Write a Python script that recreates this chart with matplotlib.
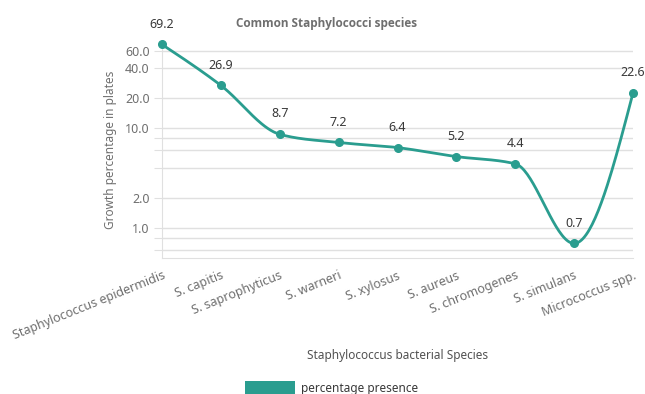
import numpy as np
import matplotlib
matplotlib.use("Agg")
import matplotlib.pyplot as plt
from matplotlib.patches import Patch

plt.rcParams['font.family'] = ['Noto Sans', 'DejaVu Sans']

species = ["Staphylococcus epidermidis", "S. capitis", "S. saprophyticus",
           "S. warneri", "S. xylosus", "S. aureus", "S. chromogenes",
           "S. simulans", "Micrococcus spp."]
presence = [69.2, 26.9, 8.7, 7.2, 6.4, 5.2, 4.4, 0.7, 22.6]
grid_vals = [0.6, 0.8, 1, 2, 4, 6, 8, 10, 20, 40, 60]
labelled = [1, 2, 10, 20, 40, 60]

TEAL = '#2a9d8f'
GRID = '#e0e0e0'


def monotone_x(xs, ys, n=40):
    # same smoothing as d3.curveMonotoneX
    xs = np.asarray(xs, float)
    ys = np.asarray(ys, float)
    h = np.diff(xs)
    s = np.diff(ys) / h
    t = np.zeros(len(xs))
    for i in range(1, len(xs) - 1):
        p = (s[i - 1] * h[i] + s[i] * h[i - 1]) / (h[i - 1] + h[i])
        t[i] = (np.sign(s[i - 1]) + np.sign(s[i])) * min(abs(s[i - 1]), abs(s[i]), 0.5 * abs(p))
    t[0] = (3 * s[0] - t[1]) / 2
    t[-1] = (3 * s[-1] - t[-2]) / 2
    px, py = [], []
    for i in range(len(xs) - 1):
        dx = h[i] / 3
        P = [(xs[i], ys[i]), (xs[i] + dx, ys[i] + dx * t[i]),
             (xs[i + 1] - dx, ys[i + 1] - dx * t[i + 1]), (xs[i + 1], ys[i + 1])]
        u = np.linspace(0, 1, n)
        b = [(1 - u) ** 3, 3 * (1 - u) ** 2 * u, 3 * (1 - u) * u ** 2, u ** 3]
        px.extend(sum(b[k] * P[k][0] for k in range(4)))
        py.extend(sum(b[k] * P[k][1] for k in range(4)))
    return np.array(px), np.array(py)


fig = plt.figure(figsize=(6.45, 3.94), dpi=100)
ax = fig.add_axes([162 / 645, 1 - 258 / 394, 471 / 645, 217 / 394])

x = np.arange(len(species))
cx, cy = monotone_x(x, np.log10(presence))
ax.plot(cx, 10 ** cy, color=TEAL, lw=2.0, zorder=3, clip_on=False)
ax.plot(x, presence, 'o', color=TEAL, ms=5.5, zorder=4, clip_on=False)

for xi, v in zip(x, presence):
    ax.annotate(f"{v:.1f}", (xi, v), xytext=(0, 10), textcoords='offset points',
                ha='center', va='bottom', fontsize=9, color='#393939')

ax.set_yscale('log')
ax.set_xlim(0, len(species) - 1)
ax.set_ylim(0.5, 75)
ax.set_yticks(grid_vals)
ax.set_yticks([], minor=True)
ax.set_yticklabels([f"{v:.1f}" if v in labelled else "" for v in grid_vals])
ax.grid(axis='y', color=GRID, lw=1)
ax.set_axisbelow(True)
ax.tick_params(axis='y', length=6, color=GRID, labelsize=9, labelcolor='#6f6f6f', pad=3)
ax.tick_params(axis='x', length=0, labelsize=9, labelcolor='#6f6f6f', pad=8)

ax.set_xticks(x)
ax.set_xticklabels(species, rotation=22, ha='right', va='top', rotation_mode='anchor')

for side in ['top', 'right']:
    ax.spines[side].set_visible(False)
for side in ['left', 'bottom']:
    ax.spines[side].set_color(GRID)

ax.set_ylabel("Growth percentage in plates", fontsize=8.5, color='#6f6f6f', labelpad=6)

fig.text(398 / 645, 1 - 356 / 394, "Staphylococcus bacterial Species", ha='center', va='center',
         fontsize=8.5, color='#525252')
fig.text(327 / 645, 1 - 23 / 394, "Common Staphylococci species", ha='center', va='center',
         fontsize=8.5, fontweight='bold', color='#6f6f6f', family=['Open Sans', 'DejaVu Sans'])

fig.legend(handles=[Patch(facecolor=TEAL, edgecolor='none', label='percentage presence')],
           loc='lower left', bbox_to_anchor=(234 / 645, -0.03), frameon=False,
           handlelength=4.3, handleheight=1.4, handletextpad=0.5, fontsize=8.5,
           labelcolor='#393939')

fig.savefig("out.png", dpi=100)
